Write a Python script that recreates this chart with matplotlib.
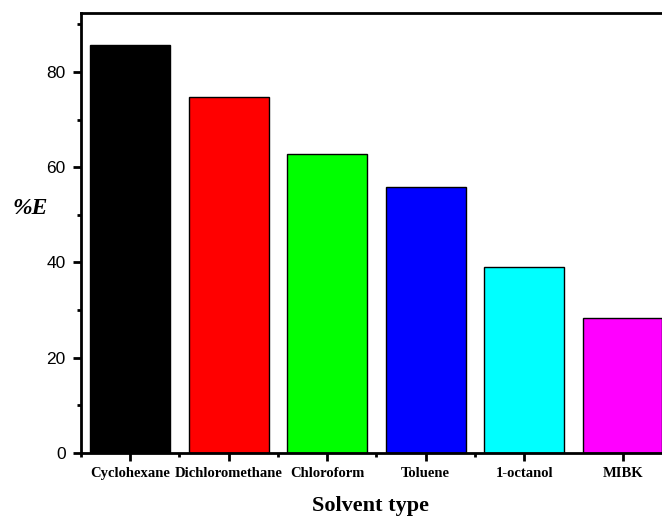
import matplotlib
matplotlib.use("Agg")
import matplotlib.pyplot as plt
from matplotlib.ticker import MultipleLocator

categories = ["Cyclohexane", "Dichloromethane", "Chloroform", "Toluene", "1-octanol", "MIBK"]
values = [85.6, 74.8, 62.8, 55.9, 39.1, 28.3]
colors = ["#000000", "#ff0000", "#00ff00", "#0000ff", "#00ffff", "#ff00ff"]

fig = plt.figure(figsize=(6.62, 5.17), dpi=100)
W, H = 662, 517
left, right, top, bottom = 81, 671.8, 13.3, 453
ax = fig.add_axes([left / W, 1 - bottom / H, (right - left) / W, (bottom - top) / H])

x = list(range(1, len(categories) + 1))
ax.bar(x, values, width=0.81, color=colors, edgecolor="black", linewidth=1.0, zorder=2)

ax.set_xlim(0.5, len(categories) + 0.5)
ax.set_ylim(0, 92.3)
ax.set_xticks(x)
ax.set_xticklabels(categories, family="Liberation Serif", fontweight="bold", fontsize=10.5)
ax.set_xticks([i + 0.5 for i in range(len(categories) - 1)], minor=True)
ax.yaxis.set_major_locator(MultipleLocator(20))
ax.yaxis.set_minor_locator(MultipleLocator(10))
for lab in ax.get_yticklabels():
    lab.set_family("Liberation Sans")
    lab.set_fontsize(12.5)

ax.tick_params(which="major", direction="out", length=6, width=2)
ax.tick_params(axis="y", which="major", pad=5)
ax.tick_params(axis="x", which="major", pad=4)
ax.tick_params(which="minor", direction="out", length=3, width=2)
for s in ax.spines.values():
    s.set_linewidth(2)

fig.text(311.7 / W, 1 - 506 / H, "Solvent type", family="Liberation Serif", fontweight="bold",
         fontsize=16, ha="left", va="center")
fig.text(12 / W, 1 - 209 / H, "%E", family="Liberation Serif", fontweight="bold", style="italic",
         fontsize=17, ha="left", va="center")

fig.savefig("out.png", dpi=100)
